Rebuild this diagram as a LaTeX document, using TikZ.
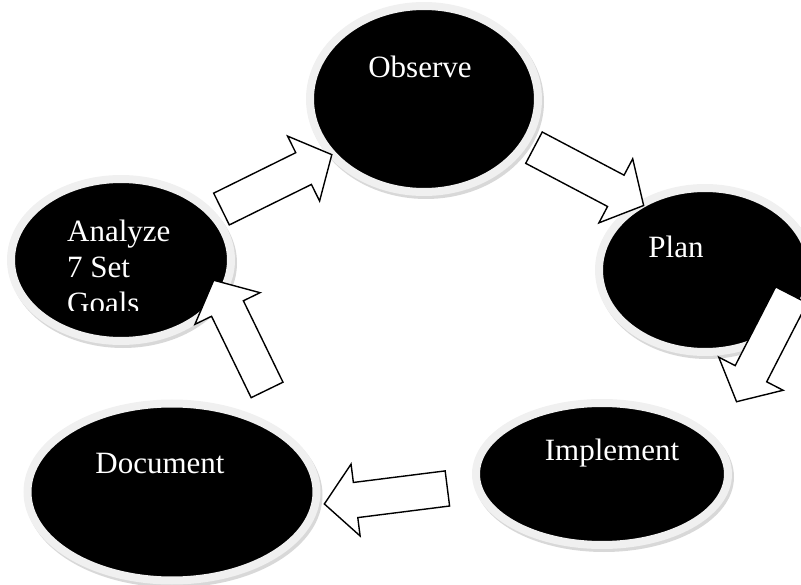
\documentclass[tikz,border=0pt]{standalone}
\usepackage{fontspec}
\setmainfont{Liberation Serif}
\usetikzlibrary{shapes.geometric,shapes.arrows,shadows}

\tikzset{
	phase/.style = {ellipse, fill = black, draw = black!6, line width = 8pt, inner sep = 0pt,
		drop shadow = {shadow xshift = 2pt, shadow yshift = -3pt, fill = black!30, draw = black!30, line width = 8pt}},
	phasetext/.style = {text = white, font = \fontsize{31}{36}\selectfont, inner sep = 0pt, anchor = base},
	blockarrow/.style = {single arrow, draw = black, fill = white, line width = 1.4pt, line join = miter,
		inner xsep = 0pt, inner ysep = 17pt, single arrow head extend = 18.5pt, single arrow tip angle = 98,
		sloped, allow upside down}
}

\begin{document}
\begin{tikzpicture}[x = 1pt, y = -1pt]
	\useasboundingbox (0, 0) rectangle (801, 585);
	
	%	phases
	\node[phase, minimum width = 228pt, minimum height = 186pt] (observe) at (424, 99) {};
	\node[phase, minimum width = 212pt, minimum height = 164pt] (plan) at (705, 270) {};
	\node[phase, minimum width = 252pt, minimum height = 142pt] (implement) at (602, 474) {};
	\node[phase, minimum width = 289pt, minimum height = 177pt] (document) at (172, 492) {};
	\node[phase, minimum width = 220pt, minimum height = 162pt] (analyze) at (121, 260) {};
	
	%	labels
	\node[phasetext] (observe-t) at (420, 78) {Observe};
	\node[phasetext] (plan-t) at (676, 258) {Plan};
	\node[phasetext] (implement-t) at (612, 460) {Implement};
	\node[phasetext] (document-t) at (160, 473) {Document};
	\begin{scope}
		\clip (0, 0) rectangle (801, 311);
		\node[phasetext, anchor = base west] (analyze-t1) at (67, 242) {Analyze};
		\node[phasetext, anchor = base west] (analyze-t2) at (67, 278) {7 Set};
		\node[phasetext, anchor = base west] (analyze-t3) at (67, 314) {Goals};
	\end{scope}
	
	%	arrow ends
	\coordinate (a2o-s) at (214.5, 212.5);	\coordinate (a2o-e) at (325, 158);
	\coordinate (o2p-s) at (527, 144);		\coordinate (o2p-e) at (637, 202);
	\coordinate (p2i-s) at (795, 288);		\coordinate (p2i-e) at (740, 395);
	\coordinate (i2d-s) at (455, 487.5);	\coordinate (i2d-e) at (332, 503);
	\coordinate (d2a-s) at (270.5, 397);	\coordinate (d2a-e) at (217, 287);
	
	%	arrows
	\path (a2o-s) -- node[blockarrow, minimum height = 123pt] (a2o) {} (a2o-e);
	\path (o2p-s) -- node[blockarrow, minimum height = 124pt] (o2p) {} (o2p-e);
	\path (p2i-s) -- node[blockarrow, minimum height = 120pt] (p2i) {} (p2i-e);
	\path (i2d-s) -- node[blockarrow, minimum height = 124pt] (i2d) {} (i2d-e);
	\path (d2a-s) -- node[blockarrow, minimum height = 122pt] (d2a) {} (d2a-e);
\end{tikzpicture}
\end{document}
